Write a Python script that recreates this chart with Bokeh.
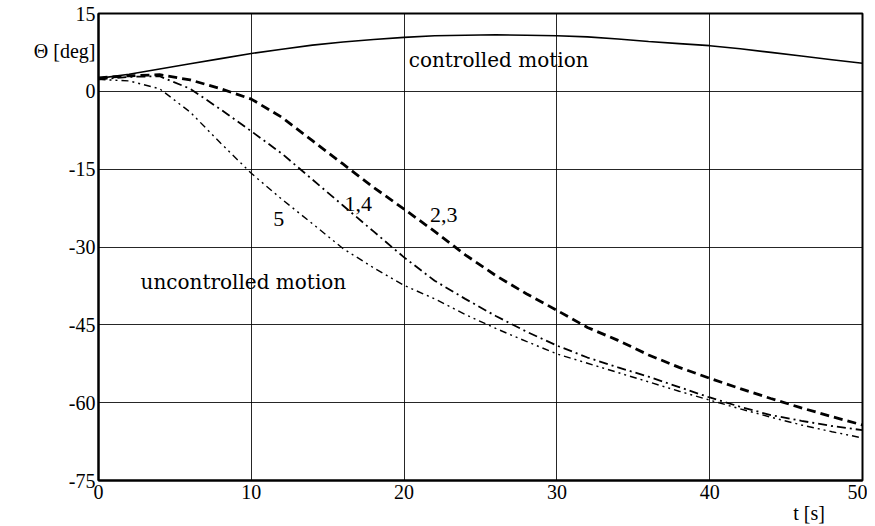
from bokeh.plotting import figure
from bokeh.models import Label, FixedTicker, Range1d, LinearAxis
from bokeh.embed import file_html
from bokeh.resources import INLINE

# time axis [s]
t = [0, 2, 4, 6, 8, 10, 12, 14, 16, 18, 20, 22, 24, 26, 28, 30, 32, 34, 36, 38, 40, 42, 44, 46, 48, 50]

# controlled motion [deg]
controlled = [2.5, 3.3, 4.3, 5.3, 6.3, 7.3, 8.1, 8.9, 9.5, 10.0, 10.4, 10.7, 10.8, 10.9, 10.8, 10.7,
              10.5, 10.1, 9.6, 9.2, 8.8, 8.2, 7.5, 6.8, 6.1, 5.4]

# uncontrolled motion, cases 2,3
case23 = [2.6, 3.0, 3.2, 2.2, 0.5, -1.5, -5.0, -9.5, -14.0, -18.5, -22.7, -27.0, -31.5, -35.5, -39.0,
          -42.2, -45.5, -48.0, -50.8, -53.2, -55.3, -57.3, -59.2, -61.0, -62.7, -64.3]

# uncontrolled motion, cases 1,4
case14 = [2.3, 2.8, 2.9, 0.5, -3.5, -7.7, -12.0, -17.0, -22.0, -27.0, -32.0, -36.5, -40.0, -43.3, -46.3,
          -49.0, -51.3, -53.2, -55.0, -57.0, -59.0, -60.8, -62.4, -63.5, -64.5, -65.3]

# uncontrolled motion, case 5
case5 = [2.3, 2.0, 0.5, -4.0, -10.0, -15.8, -20.8, -25.5, -30.3, -34.0, -37.4, -40.0, -43.0, -45.7, -48.2,
         -50.6, -52.4, -54.2, -56.0, -57.8, -59.5, -61.2, -62.8, -64.3, -65.6, -66.8]

x_ticks = [0, 10, 20, 30, 40, 50]
y_ticks = [-75, -60, -45, -30, -15, 0, 15]
y_title = "\u0398 [deg]"
x_title = "t [s]"

SERIF = "'Liberation Serif', 'Times New Roman', Times, serif"

p = figure(width=867, height=526, output_backend="svg", toolbar_location=None,
           x_range=Range1d(0, 50), y_range=Range1d(-75, 15),
           min_border_left=98, min_border_right=5, min_border_top=13, min_border_bottom=30)

p.background_fill_color = "white"
p.border_fill_color = "white"
p.outline_line_color = "black"
p.outline_line_width = 2

for ax in (p.xaxis, p.yaxis):
    ax.major_tick_in = 0
    ax.major_tick_out = 0
    ax.minor_tick_in = 0
    ax.minor_tick_out = 0
    ax.axis_line_color = "black"
    ax.axis_line_width = 2
    ax.major_label_text_font = SERIF
    ax.major_label_text_font_size = "20px"
    ax.major_label_text_color = "black"

p.xaxis.ticker = FixedTicker(ticks=x_ticks)
p.xaxis.major_label_overrides = {v: str(v) for v in x_ticks}
p.xaxis.major_label_standoff = 4

# y axis: numeric ticks plus the quantity name placed between 15 and 0
y_title_pos = 7.8
p.yaxis.ticker = FixedTicker(ticks=y_ticks + [y_title_pos])
ov = {v: str(v) for v in y_ticks}
ov[y_title_pos] = y_title
p.yaxis.major_label_overrides = ov
p.yaxis.major_label_standoff = 3

# second row under the x axis for the time label
x_title_pos = 46.5
ax2 = LinearAxis(ticker=FixedTicker(ticks=[x_title_pos]),
                 major_label_overrides={x_title_pos: x_title},
                 axis_line_color=None, major_tick_in=0, major_tick_out=0,
                 minor_tick_in=0, minor_tick_out=0, major_label_standoff=0,
                 major_label_text_font=SERIF, major_label_text_font_size="20px",
                 major_label_text_color="black")
p.add_layout(ax2, "below")

p.xgrid.ticker = FixedTicker(ticks=x_ticks)
p.ygrid.ticker = FixedTicker(ticks=y_ticks)
for g in (p.xgrid, p.ygrid):
    g.grid_line_color = "black"
    g.grid_line_width = 1
    g.grid_line_alpha = 0.85

p.line(t, controlled, line_color="black", line_width=1.6)
p.line(t, case23, line_color="black", line_width=2.8, line_dash="9 5")
p.line(t, case14, line_color="black", line_width=1.8, line_dash="9 4 2 4")
p.line(t, case5, line_color="black", line_width=1.4, line_dash="7 4 2 4 2 4")

def lab(x, y, text, size, font=SERIF, align="left"):
    p.add_layout(Label(x=x, y=y, text=text, text_font=font, text_font_size=size,
                       text_align=align, text_baseline="middle", text_color="black"))

lab(20.3, 6.0, "controlled motion", "20px", font="DejaVu Serif")
lab(2.75, -36.8, "uncontrolled motion", "20px", font="DejaVu Serif")
lab(17.0, -21.7, "1,4", "22px", align="center")
lab(22.6, -23.8, "2,3", "22px", align="center")
lab(11.8, -24.6, "5", "22px", align="center")

open("out.html", "w").write(file_html(p, INLINE))
